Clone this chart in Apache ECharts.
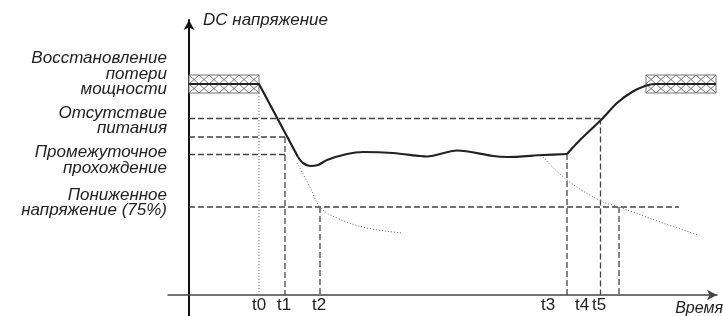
<!DOCTYPE html>
<html><head><meta charset="utf-8">
<script src="https://cdn.jsdelivr.net/npm/echarts@6/dist/echarts.min.js"></script>
<style>html,body{margin:0;padding:0;background:#fff}#c{width:723px;height:316px}</style>
</head><body><div id="c"></div>
<script>
// ---- data (schematic units: time along x, DC voltage along y) ----
const levelLoss = 211;          // power-loss recovery level (nominal)
const levelNoPower = 176.5;     // "Отсутствие питания"
const levelSag = 158;           // intermediate dashed level
const levelRide = 140.5;        // "Промежуточное прохождение"
const levelUnder = 88;          // "Пониженное напряжение (75%)"
const bandLow = 202, bandHigh = 220;
const bandStarts = [0, 457];
const bandEnds = [70, 527];

const tNames = ['t0', 't1', 't2', 't3', 't4', 't5'];
const tLabelAt = [70, 95, 130, 359, 393, 410];
const tLineAt = [70, 96, 131, 378, 411.5, 430];

const yLabelTexts = ['Восстановление\nпотери\nмощности', 'Отсутствие\nпитания', 'Промежуточное\nпрохождение', 'Пониженное\nнапряжение (75%)'];
const yLabelAt = [221, 174, 134.5, 92];

const dropTime = [0, 70, 109];
const dropVolt = [211, 211, 138];
const dipTime = [109, 114, 121, 129, 138, 158, 174, 204, 231, 238, 268, 304, 318, 354, 378];
const dipVolt = [138, 132, 129, 130, 135, 141, 143, 142, 139, 138.5, 144.5, 139, 138, 140, 141];
const riseTime = [378, 391, 413, 428, 443, 456, 466, 527];
const riseVolt = [141, 155, 176, 192, 203, 209, 211, 211];
const decay1Time = [108, 121, 131, 148, 178, 214];
const decay1Volt = [132, 108, 88, 77, 67, 62];
const decay2Time = [354, 378, 412, 430, 471, 509];
const decay2Volt = [138, 115, 94, 88, 73, 60];

// ---- build ----
const zip = (a, b) => a.map((v, i) => [v, b[i]]);
const ink = '#222';
const guideDash = { color: '#444', width: 1.3, type: [6, 3] };
const guideDot = { color: '#666', width: 1, type: [1, 2] };

function guide(points, style) {
  return { type: 'line', data: points, symbol: 'none', silent: true, animation: false,
           lineStyle: style, z: 2 };
}

const series = [];
// horizontal guides
series.push(guide([[0, levelNoPower], [tLineAt[4], levelNoPower]], guideDash));
series.push(guide([[0, levelSag], [tLineAt[1], levelSag]], guideDash));
series.push(guide([[0, levelRide], [tLineAt[1], levelRide]], guideDash));
series.push(guide([[0, levelUnder], [490, levelUnder]], guideDash));
// vertical guides
series.push(guide([[tLineAt[0], bandLow], [tLineAt[0], 0]], guideDot));
series.push(guide([[tLineAt[1], levelSag], [tLineAt[1], 0]], guideDash));
series.push(guide([[tLineAt[2], levelUnder], [tLineAt[2], 0]], guideDash));
series.push(guide([[tLineAt[3], dipVolt[dipVolt.length - 1]], [tLineAt[3], 0]], guideDash));
series.push(guide([[tLineAt[4], levelNoPower], [tLineAt[4], 0]], guideDash));
series.push(guide([[tLineAt[5], levelUnder], [tLineAt[5], 0]], guideDash));
// decay curves
series.push({ type: 'line', data: zip(decay1Time, decay1Volt), smooth: 0.4, symbol: 'none', silent: true,
  animation: false, lineStyle: guideDot, z: 2 });
series.push({ type: 'line', data: zip(decay2Time, decay2Volt), smooth: 0.4, symbol: 'none', silent: true,
  animation: false, lineStyle: guideDot, z: 2 });

// hatched bands
series.push({
  type: 'custom', silent: true, animation: false, z: 3,
  data: bandStarts.map((s, i) => [s, bandEnds[i], bandLow, bandHigh]),
  encode: { x: [0, 1], y: [2, 3] },
  renderItem(params, api) {
    const x0 = api.value(0), x1 = api.value(1), lo = api.value(2), hi = api.value(3);
    const mid = (lo + hi) / 2;
    const a = api.coord([x0, hi]), b = api.coord([x1, lo]), m = api.coord([x0, mid]);
    const children = [{ type: 'rect', shape: { x: a[0], y: a[1], width: b[0] - a[0], height: b[1] - a[1] },
      style: { fill: '#fff', stroke: '#777', lineWidth: 1 } }];
    const n = 7, w = (b[0] - a[0]) / n;
    for (let i = 0; i < n; i++) {
      const xa = a[0] + i * w, xb = xa + w;
      [[a[1], m[1]], [m[1], b[1]]].forEach(([t, u]) => {
        children.push({ type: 'line', shape: { x1: xa, y1: t, x2: xb, y2: u }, style: { stroke: '#666', lineWidth: 0.9 } });
        children.push({ type: 'line', shape: { x1: xa, y1: u, x2: xb, y2: t }, style: { stroke: '#666', lineWidth: 0.9 } });
      });
    }
    return { type: 'group', children };
  }
});

// main DC voltage curve
const mainStyle = { color: ink, width: 2.2 };
series.push({ type: 'line', data: zip(dropTime, dropVolt), symbol: 'none', silent: true, animation: false, lineStyle: mainStyle, z: 5 });
series.push({ type: 'line', data: zip(dipTime, dipVolt), smooth: 0.3, symbol: 'none', silent: true, animation: false, lineStyle: mainStyle, z: 5 });
series.push({ type: 'line', data: zip(riseTime, riseVolt), smooth: 0.3, symbol: 'none', silent: true, animation: false, lineStyle: mainStyle, z: 5 });

const font = "'Liberation Sans', Arial, sans-serif";
const chart = echarts.init(document.getElementById('c'), null, { renderer: 'canvas' });
chart.setOption({
  animation: false,
  backgroundColor: '#fff',
  grid: { left: 168, right: 6, top: 20, bottom: 0, containLabel: false, outerBoundsMode: 'none' },
  xAxis: {
    type: 'value', min: -21, max: 528,
    name: 'Время', nameLocation: 'end', nameGap: 6,
    nameTextStyle: { fontFamily: font, fontStyle: 'italic', fontSize: 16, color: ink, align: 'right', verticalAlign: 'top', padding: [6, 0, 0, 0] },
    axisLine: { onZero: true, symbol: ['none', 'arrow'], symbolSize: [8, 10], lineStyle: { color: '#444', width: 1.5 } },
    axisTick: { show: false }, splitLine: { show: false },
    axisLabel: { customValues: tLabelAt, margin: -19, verticalAlign: 'top',
      formatter: v => tNames[tLabelAt.indexOf(v)] || '',
      fontFamily: "'Liberation Sans Narrow', 'Liberation Sans', Arial, sans-serif", fontSize: 17, color: ink }
  },
  yAxis: {
    type: 'value', min: -21, max: 275,
    name: 'DC напряжение', nameLocation: 'end', nameGap: 0,
    nameTextStyle: { fontFamily: font, fontStyle: 'italic', fontSize: 17, color: ink, align: 'left', verticalAlign: 'middle', padding: [0, 0, 0, 14] },
    axisLine: { onZero: true, symbol: ['none', 'arrow'], symbolSize: [8, 10], lineStyle: { color: '#111', width: 2 } },
    axisTick: { show: false }, splitLine: { show: false },
    axisLabel: { customValues: yLabelAt, margin: 1,
      formatter: v => yLabelTexts[yLabelAt.indexOf(v)] || '',
      fontFamily: font, fontStyle: 'italic', fontSize: 17, lineHeight: 15.5, color: ink, align: 'right' }
  },
  series
});
</script></body></html>
